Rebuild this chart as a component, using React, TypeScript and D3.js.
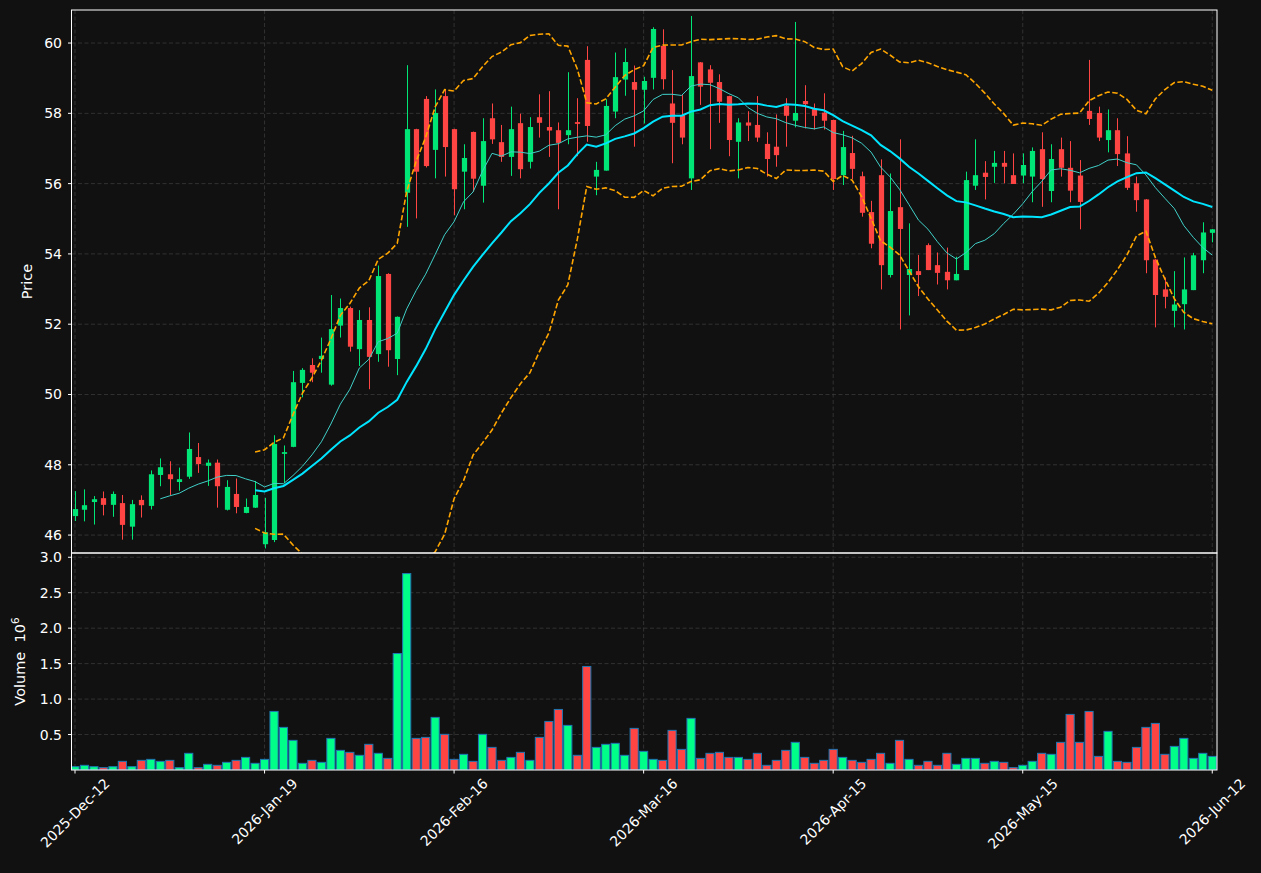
import * as d3 from "d3";
import { useRef, useEffect } from "react";

// OHLC values (one entry per trading session)
const opens = [
  46.54, 46.72, 46.94, 47.05, 46.86, 46.91, 46.24, 47.0, 46.83, 47.71,
  47.73, 47.51, 47.66, 48.22, 47.97, 48.06, 46.72, 47.17, 46.63, 46.78,
  45.74, 45.86, 48.31, 48.51, 50.33, 50.84, 51.01, 50.28, 51.96, 52.46,
  51.29, 52.12, 51.15, 53.43, 51.01, 55.74, 57.55, 58.41, 56.96, 58.49,
  57.55, 56.34, 57.47, 55.94, 57.86, 57.18, 56.76, 57.72, 56.62, 57.89,
  57.61, 57.52, 57.38, 57.75, 59.52, 56.2, 56.37, 58.05, 58.96, 58.89,
  58.67, 59.01, 59.92, 58.28, 57.95, 56.15, 59.45, 59.25, 58.89, 58.49,
  57.19, 57.74, 57.67, 57.13, 57.05, 58.22, 57.79, 58.35, 58.12, 58.02,
  57.81, 56.24, 56.87, 56.21, 55.19, 56.24, 53.4, 55.33, 53.4, 53.51,
  54.25, 53.68, 53.49, 53.25, 53.54, 55.94, 56.31, 56.48, 56.59, 56.24,
  56.23, 56.2, 56.98, 55.79, 56.98, 56.45, 56.23, 58.07, 58.01, 57.24,
  57.52, 56.86, 56.01, 55.55, 53.84, 52.99, 52.38, 52.57, 52.97, 53.82,
  54.6,
];
const highs = [
  47.25, 47.3, 47.11, 47.24, 47.24, 47.14, 47.0, 47.13, 47.84, 48.18,
  48.1, 47.92, 48.92, 48.62, 48.15, 48.15, 47.56, 47.61, 47.04, 47.54,
  47.06, 48.84, 48.55, 50.67, 50.75, 51.03, 51.62, 52.83, 52.73, 52.5,
  52.4, 52.48, 53.67, 53.45, 52.22, 59.37, 57.56, 58.49, 58.68, 58.66,
  57.56, 57.12, 57.48, 57.86, 58.28, 57.67, 58.19, 57.99, 57.89, 58.54,
  58.63, 57.74, 59.17, 58.43, 59.91, 56.62, 58.4, 59.73, 59.85, 59.36,
  59.04, 60.45, 60.39, 59.23, 58.52, 60.77, 59.46, 59.37, 59.11, 58.5,
  57.86, 58.06, 58.49, 57.46, 57.97, 58.43, 60.6, 58.8, 58.28, 58.57,
  57.82, 57.5, 57.36, 56.34, 55.51, 56.69, 56.29, 57.26, 54.87, 53.97,
  54.3, 54.04, 54.18, 53.92, 56.34, 57.26, 56.64, 56.93, 56.93, 56.86,
  56.86, 57.03, 57.46, 57.12, 57.31, 57.21, 56.67, 59.52, 58.19, 58.11,
  57.86, 57.35, 56.2, 55.56, 53.85, 53.33, 53.51, 53.9, 54.03, 54.9,
  54.71,
];
const lows = [
  46.4, 46.39, 46.3, 46.56, 46.52, 45.87, 45.87, 46.5, 46.73, 47.39,
  47.14, 47.26, 47.6, 47.77, 47.4, 46.78, 46.7, 46.62, 46.62, 46.77,
  45.62, 45.8, 47.48, 48.5, 49.92, 50.35, 50.62, 50.25, 51.62, 51.22,
  50.81, 50.15, 50.93, 50.79, 50.55, 54.77, 55.01, 56.46, 56.15, 56.2,
  55.1, 55.27, 55.77, 55.46, 57.13, 56.62, 56.22, 56.15, 56.43, 57.31,
  56.76, 55.27, 57.12, 56.78, 57.19, 55.67, 56.37, 57.86, 58.5, 57.05,
  57.71, 58.68, 58.68, 56.58, 57.12, 55.82, 58.24, 56.98, 57.73, 56.78,
  56.15, 57.21, 57.19, 56.2, 56.48, 57.05, 57.6, 57.57, 57.54, 57.54,
  55.82, 55.96, 56.13, 55.06, 54.16, 52.99, 53.33, 51.85, 52.25, 52.8,
  53.54, 53.13, 52.99, 53.25, 53.54, 55.82, 55.55, 56.02, 56.01, 55.99,
  56.01, 55.47, 55.34, 55.47, 56.2, 55.47, 54.7, 57.67, 57.21, 56.89,
  56.5, 55.82, 55.2, 53.45, 51.91, 52.45, 51.91, 51.85, 52.97, 53.45,
  54.33,
];
const closes = [
  46.74, 46.85, 47.02, 46.86, 47.17, 46.29, 46.88, 46.85, 47.73, 47.93,
  47.59, 47.59, 48.45, 48.02, 48.06, 47.39, 47.37, 46.8, 46.8, 47.14,
  46.08, 48.59, 48.36, 50.35, 50.7, 50.62, 51.1, 51.86, 52.46, 51.36,
  52.12, 51.07, 53.37, 51.26, 52.21, 57.55, 56.34, 56.5, 58.01, 57.04,
  55.84, 56.73, 56.14, 57.21, 57.26, 56.76, 57.55, 56.41, 57.61, 57.73,
  57.51, 57.16, 57.52, 57.7, 57.64, 56.39, 58.21, 59.03, 59.46, 58.67,
  58.92, 60.4, 58.97, 57.73, 57.31, 59.06, 58.76, 58.87, 58.33, 57.24,
  57.74, 57.65, 57.31, 56.7, 56.81, 57.93, 58.01, 58.26, 57.93, 57.79,
  56.13, 57.04, 56.42, 55.17, 54.29, 53.68, 55.22, 54.71, 53.57, 53.4,
  53.54, 53.46, 53.25, 53.43, 56.1, 56.24, 56.19, 56.59, 56.48, 55.99,
  56.53, 56.93, 56.13, 56.7, 56.45, 55.8, 55.48, 57.84, 57.31, 57.52,
  56.84, 55.88, 55.53, 53.82, 52.83, 52.78, 52.56, 52.99, 53.96, 54.61,
  54.7,
];
// volume in millions
const volumes = [
  0.047, 0.066, 0.047, 0.033, 0.047, 0.122, 0.047, 0.136, 0.15, 0.122,
  0.136, 0.033, 0.235, 0.033, 0.08, 0.066, 0.108, 0.136, 0.178, 0.094,
  0.15, 0.826, 0.601, 0.418, 0.094, 0.136, 0.108, 0.446, 0.277, 0.249,
  0.207, 0.362, 0.235, 0.164, 1.643, 2.77, 0.446, 0.46, 0.742, 0.503,
  0.15, 0.221, 0.122, 0.503, 0.319, 0.136, 0.178, 0.249, 0.136, 0.46,
  0.685, 0.854, 0.629, 0.207, 1.46, 0.319, 0.362, 0.376, 0.207, 0.587,
  0.263, 0.15, 0.136, 0.559, 0.291, 0.728, 0.164, 0.235, 0.249, 0.178,
  0.178, 0.15, 0.235, 0.066, 0.136, 0.277, 0.39, 0.178, 0.094, 0.136,
  0.291, 0.178, 0.136, 0.108, 0.15, 0.235, 0.094, 0.418, 0.15, 0.066,
  0.122, 0.066, 0.235, 0.08, 0.164, 0.164, 0.094, 0.122, 0.108, 0.033,
  0.066, 0.122, 0.235, 0.221, 0.39, 0.784, 0.39, 0.826, 0.192, 0.545,
  0.122, 0.108, 0.319, 0.601, 0.657, 0.221, 0.333, 0.446, 0.164, 0.235,
  0.192,
];

const tickIndex = [0, 20, 40, 60, 80, 100, 120];
const tickLabels = [
  "2025-Dec-12", "2026-Jan-19", "2026-Feb-16", "2026-Mar-16",
  "2026-Apr-15", "2026-May-15", "2026-Jun-12",
];
const priceTicks = [46, 48, 50, 52, 54, 56, 58, 60];
const volumeTicks = [0.5, 1.0, 1.5, 2.0, 2.5, 3.0];

const W = 1261;
const H = 873;
const LEFT = 71.5;
const RIGHT = 1217;
const PRICE_TOP = 10;
const PRICE_BOTTOM = 553;
const VOL_BOTTOM = 770;

const BG = "#111111";
const UP = "#00e676";
const DOWN = "#ff4444";
const VOL_UP = "#00ff88";
const GRID = "#3a3a3a";
const FONT = "DejaVu Sans, sans-serif";
const TICK_FS = 14;
const LABEL_FS = 14.5;

const rolling = (arr: number[], win: number, fn: (w: number[]) => number) =>
  arr.map((_, i) => (i < win - 1 ? null : fn(arr.slice(i - win + 1, i + 1))));

const App = () => {
  const ref = useRef<SVGSVGElement>(null);

  useEffect(() => {
    const svg = d3.select(ref.current);
    svg.selectAll("*").remove();

    const n = closes.length;
    const idx = d3.range(n);

    const x = d3.scaleLinear().domain([-0.37, n - 1 + 0.5]).range([LEFT, RIGHT]);
    const yP = d3.scaleLinear().domain([45.49, 60.94]).range([PRICE_BOTTOM, PRICE_TOP]);
    const yV = d3.scaleLinear().domain([0, 3.06]).range([VOL_BOTTOM, PRICE_BOTTOM]);

    // Indicators: 10 and 20 session means, 20 session bands at 2 sd
    const ma10 = rolling(closes, 10, (w) => d3.mean(w)!);
    const ma20 = rolling(closes, 20, (w) => d3.mean(w)!);
    const sd20 = rolling(closes, 20, (w) => {
      const m = d3.mean(w)!;
      return Math.sqrt(d3.mean(w.map((v) => (v - m) ** 2))!);
    });
    const bbUp = ma20.map((m, i) => (m == null ? null : m + 2 * sd20[i]!));
    const bbLo = ma20.map((m, i) => (m == null ? null : m - 2 * sd20[i]!));

    svg.append("rect").attr("width", W).attr("height", H).attr("fill", BG);

    const defs = svg.append("defs");
    defs.append("clipPath").attr("id", "clip-price").append("rect")
      .attr("x", LEFT).attr("y", PRICE_TOP)
      .attr("width", RIGHT - LEFT).attr("height", PRICE_BOTTOM - PRICE_TOP);
    defs.append("clipPath").attr("id", "clip-vol").append("rect")
      .attr("x", LEFT).attr("y", PRICE_BOTTOM)
      .attr("width", RIGHT - LEFT).attr("height", VOL_BOTTOM - PRICE_BOTTOM);

    // Grid
    const grid = svg.append("g")
      .attr("stroke", GRID).attr("stroke-width", 0.8).attr("stroke-dasharray", "4,2.5");
    priceTicks.forEach((t) => {
      grid.append("line").attr("x1", LEFT).attr("x2", RIGHT)
        .attr("y1", yP(t)).attr("y2", yP(t));
    });
    volumeTicks.forEach((t) => {
      grid.append("line").attr("x1", LEFT).attr("x2", RIGHT)
        .attr("y1", yV(t)).attr("y2", yV(t));
    });
    tickIndex.forEach((t) => {
      grid.append("line").attr("x1", x(t)).attr("x2", x(t))
        .attr("y1", PRICE_TOP).attr("y2", VOL_BOTTOM);
    });

    // Candles
    const step = x(1) - x(0);
    const bodyW = step * 0.55;
    const candles = svg.append("g").attr("clip-path", "url(#clip-price)");
    idx.forEach((i) => {
      const up = closes[i] >= opens[i];
      const col = up ? UP : DOWN;
      const cx = Math.round(x(i)) + 0.5;
      candles.append("line")
        .attr("x1", cx).attr("x2", cx)
        .attr("y1", yP(highs[i])).attr("y2", yP(lows[i]))
        .attr("stroke", col).attr("stroke-width", 1);
      const top = yP(Math.max(opens[i], closes[i]));
      const bot = yP(Math.min(opens[i], closes[i]));
      candles.append("rect")
        .attr("x", cx - bodyW / 2).attr("y", top)
        .attr("width", bodyW).attr("height", Math.max(1, bot - top))
        .attr("fill", col);
    });

    // Indicator lines
    const lineGen = d3.line<number | null>()
      .defined((d) => d != null)
      .x((_, i) => x(i))
      .y((d) => yP(d as number));
    const lines = svg.append("g").attr("clip-path", "url(#clip-price)").attr("fill", "none");
    lines.append("path").attr("d", lineGen(ma10))
      .attr("stroke", "#40d0c8").attr("stroke-width", 1);
    lines.append("path").attr("d", lineGen(ma20))
      .attr("stroke", "#00e5ff").attr("stroke-width", 2);
    [bbUp, bbLo].forEach((band) => {
      lines.append("path").attr("d", lineGen(band))
        .attr("stroke", "#ffa500").attr("stroke-width", 1.6)
        .attr("stroke-dasharray", "5.5,2.4");
    });

    // Volume bars
    const vol = svg.append("g").attr("clip-path", "url(#clip-vol)");
    idx.forEach((i) => {
      const up = closes[i] >= opens[i];
      vol.append("rect")
        .attr("x", x(i) - step * 0.43).attr("y", yV(volumes[i]))
        .attr("width", step * 0.86).attr("height", yV(0) - yV(volumes[i]))
        .attr("fill", up ? VOL_UP : DOWN)
        .attr("stroke", "#1f77b4").attr("stroke-width", 1);
    });

    // Frames
    const frames = svg.append("g").attr("fill", "none").attr("stroke", "#ffffff").attr("stroke-width", 1);
    frames.append("rect").attr("x", LEFT).attr("y", PRICE_TOP)
      .attr("width", RIGHT - LEFT).attr("height", PRICE_BOTTOM - PRICE_TOP);
    frames.append("rect").attr("x", LEFT).attr("y", PRICE_BOTTOM)
      .attr("width", RIGHT - LEFT).attr("height", VOL_BOTTOM - PRICE_BOTTOM);

    // Y ticks
    const axisText = svg.append("g")
      .attr("fill", "#ffffff").attr("font-family", FONT).attr("font-size", TICK_FS);
    const addYTicks = (ticks: number[], scale: d3.ScaleLinear<number, number>, fmt: (v: number) => string) => {
      ticks.forEach((t) => {
        svg.append("line").attr("x1", LEFT - 3.5).attr("x2", LEFT)
          .attr("y1", scale(t)).attr("y2", scale(t))
          .attr("stroke", "#ffffff").attr("stroke-width", 1);
        axisText.append("text").attr("x", LEFT - 9.5).attr("y", scale(t))
          .attr("text-anchor", "end").attr("dominant-baseline", "central")
          .text(fmt(t));
      });
    };
    addYTicks(priceTicks, yP, (v) => String(v));
    addYTicks(volumeTicks, yV, (v) => v.toFixed(1));

    // X ticks, rotated labels centred on the tick
    tickIndex.forEach((t, k) => {
      const tx = x(t);
      svg.append("line").attr("x1", tx).attr("x2", tx)
        .attr("y1", VOL_BOTTOM).attr("y2", VOL_BOTTOM + 3.5)
        .attr("stroke", "#ffffff").attr("stroke-width", 1);
      const label = axisText.append("text")
        .attr("text-anchor", "middle").attr("dominant-baseline", "central")
        .text(tickLabels[k]);
      const len = (label.node() as SVGTextElement).getComputedTextLength();
      const cy = VOL_BOTTOM + 6 + (len + TICK_FS) / (2 * Math.SQRT2);
      label.attr("x", tx).attr("y", cy).attr("transform", `rotate(-45,${tx},${cy})`);
    });

    // Axis titles
    axisText.append("text")
      .attr("transform", `translate(32,${(PRICE_TOP + PRICE_BOTTOM) / 2}) rotate(-90)`)
      .attr("text-anchor", "middle").attr("font-size", LABEL_FS)
      .text("Price");
    const vt = axisText.append("text")
      .attr("transform", `translate(25,${(PRICE_BOTTOM + VOL_BOTTOM) / 2}) rotate(-90)`)
      .attr("text-anchor", "middle").attr("font-size", LABEL_FS);
    vt.append("tspan").text("Volume\u00a0\u00a010");
    vt.append("tspan").attr("dy", -6).attr("font-size", 10.5).text("6");
  }, []);

  return (
    <svg
      ref={ref}
      width={W}
      height={H}
      style={{ position: "absolute", left: 0, top: 0, display: "block" }}
    />
  );
};

export default App;
